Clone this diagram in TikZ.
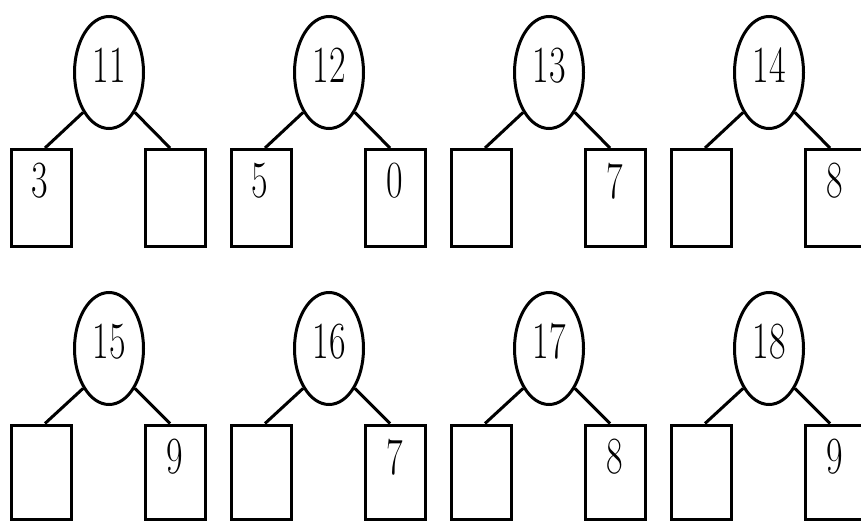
\documentclass[tikz,border=0pt]{standalone}
\usepackage{graphicx}
\usetikzlibrary{shapes.geometric}
\newcommand{\dg}[1]{\scalebox{1}[1.45]{\fontsize{36}{36}\selectfont #1}}
\begin{document}
\begin{tikzpicture}[x=1pt,y=1pt,line width=3pt,
  parent/.style={ellipse,draw,minimum width=69pt,minimum height=112pt,inner sep=0pt},
  leaf/.style={rectangle,draw,minimum width=60pt,inner sep=0pt},
  edge/.style={draw,line width=3pt}]
\useasboundingbox (0,0) rectangle (861,-522);
\clip (0,0) rectangle (861,-522);
\foreach \n/\cx/\cy/\by/\bh/\ly/\t/\l/\r in {
  a/109/-72.5/-198/97/17/11/3/{},
  b/329/-72.5/-198/97/17/12/5/0,
  c/549/-72.5/-198/97/17/13/{}/7,
  d/769/-72.5/-198/97/17/14/{}/8,
  e/109/-348.5/-472/94/15/15/{}/9,
  f/329/-348.5/-472/94/15/16/{}/7,
  g/549/-348.5/-472/94/15/17/{}/8,
  h/769/-348.5/-472/94/15/18/{}/9}{
  \node[parent,label={[anchor=center,yshift=7pt]center:\dg{\t}}] (p\n) at (\cx,\cy) {};
  \node[leaf,minimum height=\bh pt,label={[anchor=center,yshift=\ly pt,xshift=-1.5pt]center:\dg{\l}}] (l\n) at (\cx-67.5,\by) {};
  \node[leaf,minimum height=\bh pt,label={[anchor=center,yshift=\ly pt]center:\dg{\r}}] (r\n) at (\cx+66,\by) {};
  \path[edge] (p\n.237) -- ([xshift=3.5pt]l\n.north);
  \path[edge] (p\n.303) -- ([xshift=-5pt]r\n.north);
}
\end{tikzpicture}
\end{document}
